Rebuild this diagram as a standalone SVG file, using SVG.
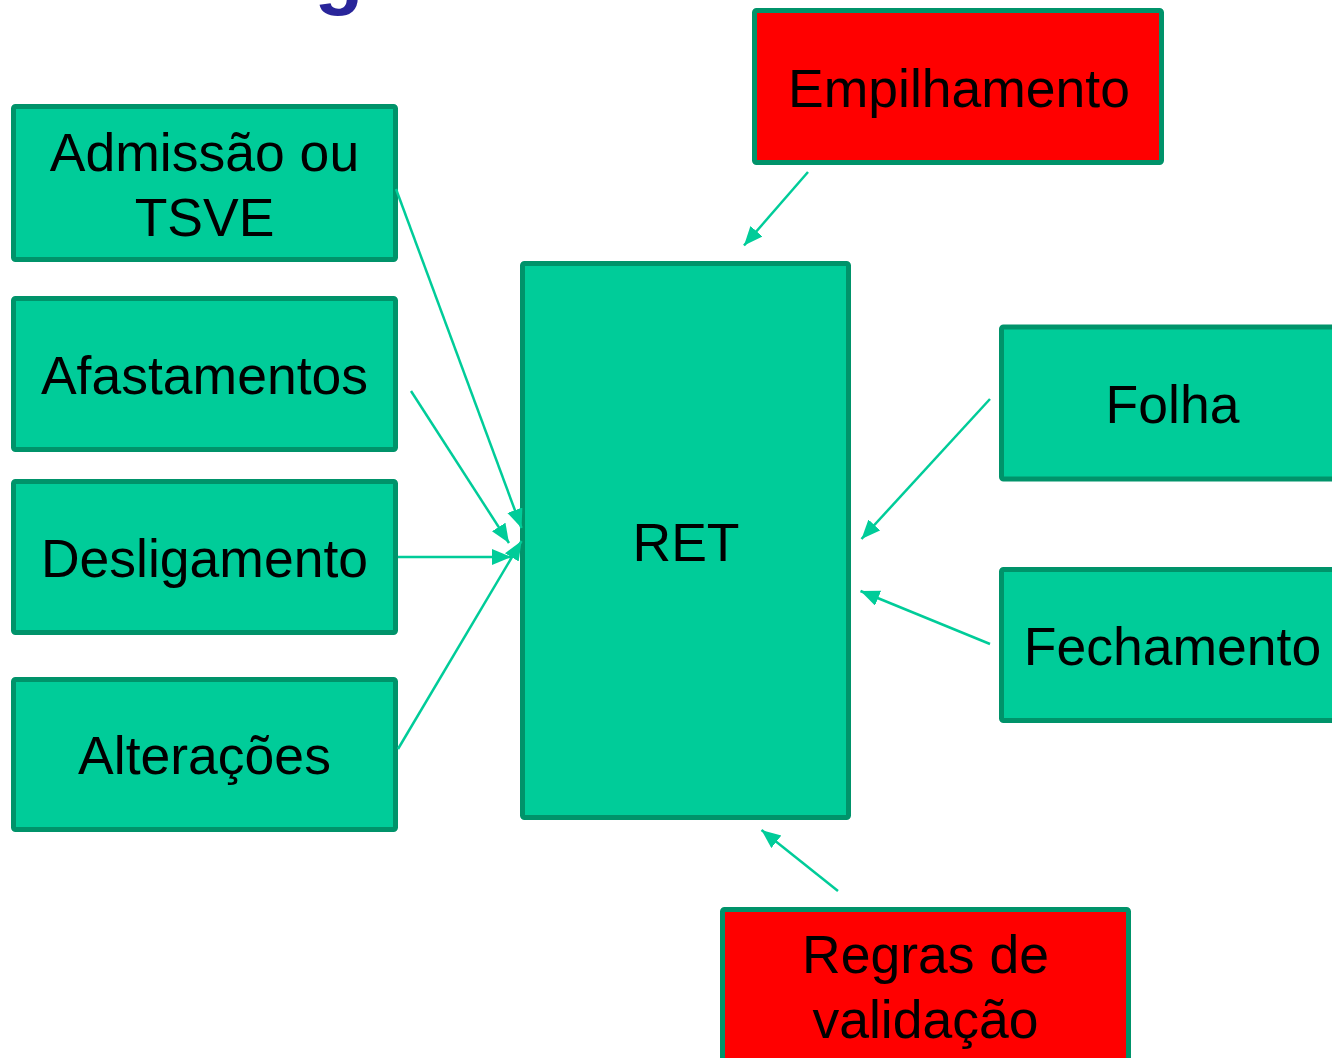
<svg xmlns="http://www.w3.org/2000/svg" width="1332" height="1058" viewBox="0 0 1332 1058">
<style>
.box{stroke:#00936A;stroke-width:5}
.g{fill:#00CC99}
.r{fill:#FF0000}
.t{font-family:"Liberation Sans",Arial,sans-serif;font-size:53.5px;fill:#000;text-anchor:middle}
.c{stroke:#00CC99;stroke-width:2.5;fill:none;marker-end:url(#ah)}
</style>
<defs>
<marker id="ah" markerUnits="userSpaceOnUse" markerWidth="22" markerHeight="18" refX="19" refY="8" orient="auto">
<path d="M0,0 L19,8 L0,16 Z" fill="#00CC99"/>
</marker>
</defs>
<rect width="1332" height="1058" fill="#fff"/>
<text x="339" y="-1" style="font-family:'Liberation Sans',Arial,sans-serif;font-weight:bold;font-size:80px;fill:#29259A;text-anchor:middle">g</text>
<g id="admissao">
<rect class="box g" x="13.5" y="106.5" width="382" height="153" rx="2"/>
<text class="t" x="204.5" y="171">Admissão ou</text>
<text class="t" x="204.5" y="236">TSVE</text>
</g>
<g id="afastamentos">
<rect class="box g" x="13.5" y="298.5" width="382" height="151" rx="2"/>
<text class="t" x="204.5" y="394">Afastamentos</text>
</g>
<g id="desligamento">
<rect class="box g" x="13.5" y="481.5" width="382" height="151" rx="2"/>
<text class="t" x="204.5" y="577">Desligamento</text>
</g>
<g id="alteracoes">
<rect class="box g" x="13.5" y="679.5" width="382" height="150" rx="2"/>
<text class="t" x="204.5" y="774">Alterações</text>
</g>
<g id="ret">
<rect class="box g" x="522.5" y="263.5" width="326" height="554" rx="2"/>
<text class="t" x="686" y="561">RET</text>
</g>
<g id="folha">
<rect class="box g" x="1001.5" y="327" width="344" height="152" rx="2"/>
<text class="t" x="1172.5" y="423">Folha</text>
</g>
<g id="fechamento">
<rect class="box g" x="1001.5" y="569.5" width="344" height="151" rx="2"/>
<text class="t" x="1172.5" y="665">Fechamento</text>
</g>
<g id="empilhamento">
<rect class="box r" x="754.5" y="10.5" width="407" height="152" rx="2"/>
<text class="t" x="959" y="107">Empilhamento</text>
</g>
<g id="regras">
<rect class="box r" x="722.5" y="909.5" width="406" height="155" rx="2"/>
<text class="t" x="925.5" y="973">Regras de</text>
<text class="t" x="925.5" y="1038">validação</text>
</g>
<g id="connectors">
<line class="c" x1="396" y1="189" x2="521.5" y2="528"/>
<line class="c" x1="411" y1="391" x2="509" y2="543"/>
<line class="c" x1="398" y1="557" x2="511" y2="557"/>
<line class="c" x1="398" y1="749" x2="521.5" y2="541"/>
<line class="c" x1="808" y1="172" x2="744" y2="245.5"/>
<line class="c" x1="990" y1="399" x2="861.5" y2="539"/>
<line class="c" x1="990" y1="644" x2="860.5" y2="591"/>
<line class="c" x1="838" y1="891" x2="761.5" y2="830"/>
</g>
</svg>
